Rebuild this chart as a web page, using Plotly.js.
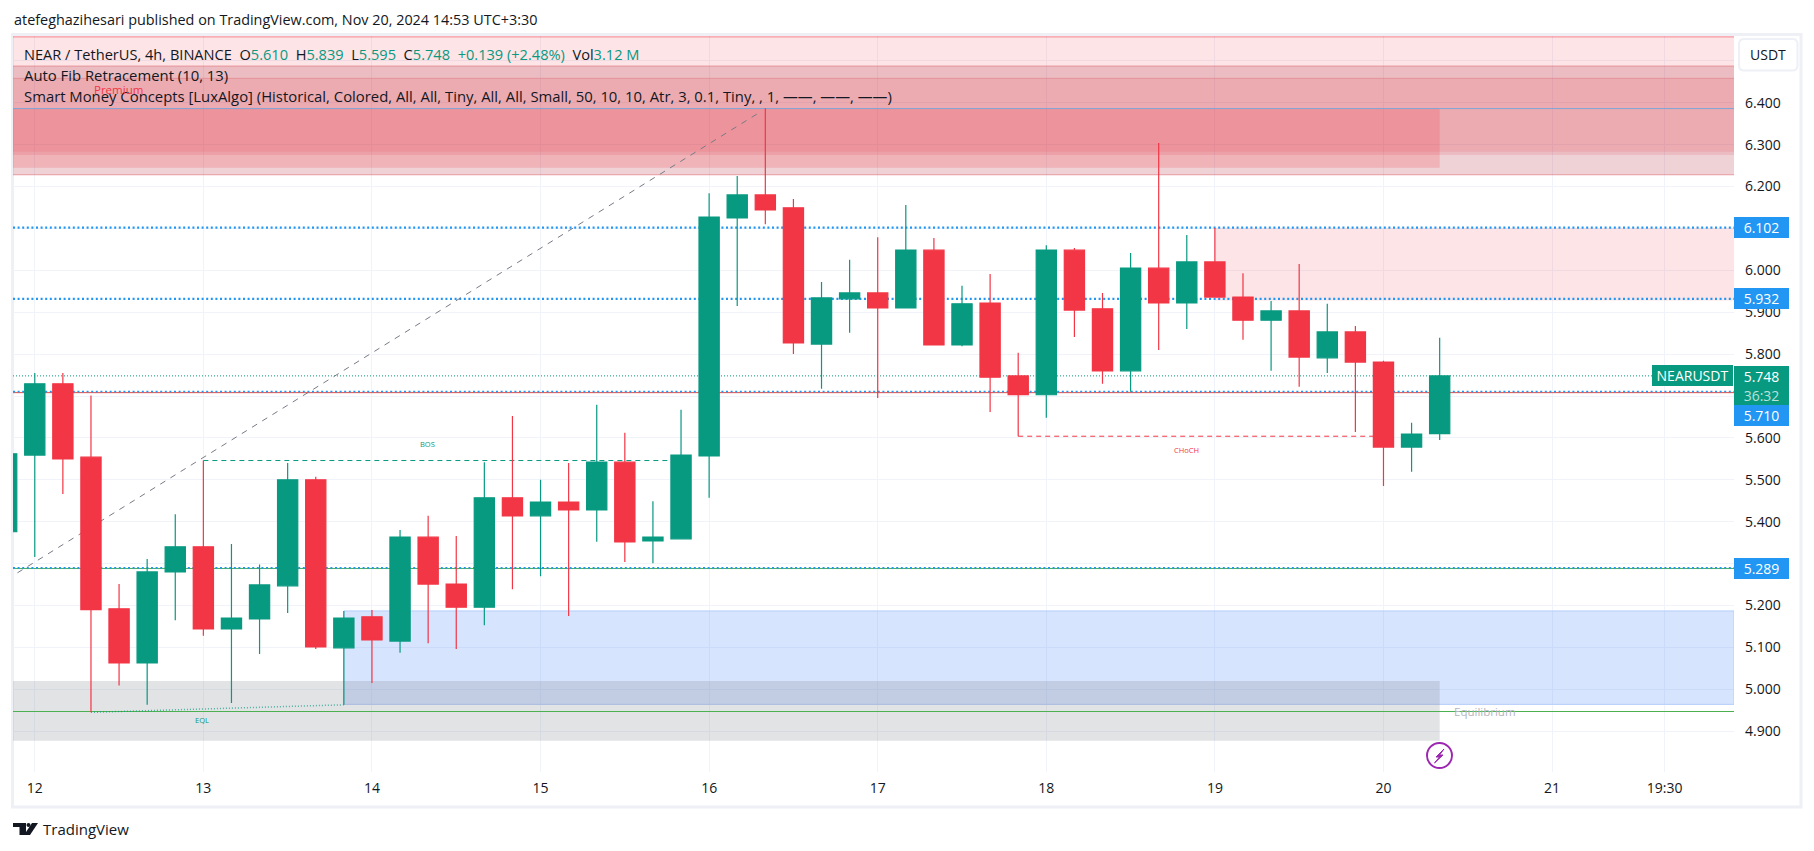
<!DOCTYPE html>
<html>
<head>
<meta charset="utf-8">
<script src="https://cdn.plot.ly/plotly-3.0.1.min.js"></script>
<style>html,body{margin:0;padding:0;background:#fff;overflow:hidden}#chart{width:1814px;height:851px}</style>
</head>
<body>
<div id="chart"></div>
<script>
var times = ["2024-11-11 20:00",
"2024-11-12 00:00","2024-11-12 04:00","2024-11-12 08:00","2024-11-12 12:00","2024-11-12 16:00","2024-11-12 20:00",
"2024-11-13 00:00","2024-11-13 04:00","2024-11-13 08:00","2024-11-13 12:00","2024-11-13 16:00","2024-11-13 20:00",
"2024-11-14 00:00","2024-11-14 04:00","2024-11-14 08:00","2024-11-14 12:00","2024-11-14 16:00","2024-11-14 20:00",
"2024-11-15 00:00","2024-11-15 04:00","2024-11-15 08:00","2024-11-15 12:00","2024-11-15 16:00","2024-11-15 20:00",
"2024-11-16 00:00","2024-11-16 04:00","2024-11-16 08:00","2024-11-16 12:00","2024-11-16 16:00","2024-11-16 20:00",
"2024-11-17 00:00","2024-11-17 04:00","2024-11-17 08:00","2024-11-17 12:00","2024-11-17 16:00","2024-11-17 20:00",
"2024-11-18 00:00","2024-11-18 04:00","2024-11-18 08:00","2024-11-18 12:00","2024-11-18 16:00","2024-11-18 20:00",
"2024-11-19 00:00","2024-11-19 04:00","2024-11-19 08:00","2024-11-19 12:00","2024-11-19 16:00","2024-11-19 20:00",
"2024-11-20 00:00","2024-11-20 04:00","2024-11-20 08:00"];
var opens  = [5.376,
5.559,5.729,5.554,5.192,5.063,5.280,
5.340,5.144,5.168,5.247,5.500,5.099,
5.173,5.115,5.363,5.251,5.196,5.457,
5.414,5.447,5.428,5.542,5.354,5.359,
5.557,6.125,6.180,6.149,5.824,5.932,
5.946,5.910,6.048,5.822,5.922,5.748,
5.703,6.048,5.908,5.760,6.005,5.922,
6.020,5.936,5.881,5.903,5.791,5.853,
5.781,5.578,5.610];
var highs  = [5.562,
5.755,5.755,5.701,5.251,5.311,5.418,
5.546,5.347,5.298,5.540,5.507,5.187,
5.189,5.380,5.414,5.366,5.542,5.652,
5.500,5.540,5.679,5.612,5.449,5.667,
6.184,6.225,6.387,6.170,5.972,6.025,
6.079,6.156,6.077,5.963,5.991,5.803,
6.060,6.053,5.946,6.041,6.304,6.084,
6.101,5.993,5.927,6.015,5.920,5.867,
5.784,5.636,5.839];
var lows   = [5.376,
5.316,5.466,4.945,5.009,4.963,5.165,
5.128,4.967,5.084,5.182,5.096,4.963,
5.015,5.087,5.110,5.096,5.153,5.239,
5.270,5.175,5.352,5.304,5.301,5.359,
5.457,5.915,6.110,5.800,5.717,5.851,
5.695,5.910,5.822,5.819,5.662,5.604,
5.648,5.841,5.729,5.710,5.810,5.860,
5.936,5.834,5.760,5.722,5.755,5.614,
5.485,5.519,5.595];
var closes = [5.562,
5.729,5.550,5.190,5.063,5.280,5.340,
5.144,5.170,5.249,5.500,5.101,5.170,
5.118,5.363,5.251,5.196,5.457,5.414,
5.447,5.428,5.542,5.352,5.363,5.559,
6.127,6.180,6.144,5.827,5.934,5.946,
5.910,6.048,5.822,5.920,5.745,5.703,
6.048,5.905,5.760,6.005,5.922,6.020,
5.936,5.881,5.903,5.793,5.853,5.781,
5.578,5.609,5.748];

var dayTicks  = ["2024-11-12","2024-11-13","2024-11-14","2024-11-15","2024-11-16","2024-11-17","2024-11-18","2024-11-19","2024-11-20","2024-11-21","2024-11-21 16:02"];
var dayLabels = ["12","13","14","15","16","17","18","19","20","21","19:30"];
var priceTicks  = [4.9,5.0,5.1,5.2,5.3,5.4,5.5,5.6,5.7,5.8,5.9,6.0,6.1,6.2,6.3,6.4,6.5];
var priceLabels = ["4.900","5.000","5.100","5.200","","5.400","5.500","5.600","","5.800","5.900","6.000","","6.200","6.300","6.400",""];

var viewStart = "2024-11-11 20:54", viewEnd = "2024-11-22 01:54";
var priceMin = 4.8026, priceMax = 6.5592;
var zoneCut = "2024-11-20 08:00";
var blueStart = "2024-11-13 20:00";
var fvgStart = "2024-11-19 00:00";

var GREEN = "#089981", RED = "#F23645", BLUE = "#2196F3", INK = "#131722";
var L = 13, R = 1734, T = 36, B = 772, W = 1814, H = 851;
function X(px){ return (px - L) / (R - L); }
function Y(py){ return (B - py) / (B - T); }

function band(x0, x1, y0, y1, fill, line){
  return {type:"rect", xref:"x", yref:"y", x0:x0, x1:x1, y0:y0, y1:y1, layer:"between",
          fillcolor:fill, line: line ? {color:line, width:1} : {width:0}};
}
function hline(x0, x1, y, color, width, dash){
  return {type:"line", xref:"x", yref:"y", x0:x0, x1:x1, y0:y, y1:y, layer:"between",
          line:{color:color, width:width, dash:dash||"solid"}};
}
function seg(x0, y0, x1, y1, color, width, dash){
  return {type:"line", xref:"x", yref:"y", x0:x0, x1:x1, y0:y0, y1:y1, layer:"between",
          line:{color:color, width:width, dash:dash||"solid"}};
}
function pxPath(d, fill, line, lw, layer){
  return {type:"path", xref:"paper", yref:"paper", path:d, fillcolor:fill||"rgba(0,0,0,0)",
          line:{color:line||"rgba(0,0,0,0)", width:lw||0}, layer:layer||"above"};
}
function poly(points){
  return "M " + points.map(function(p){ return X(p[0]) + "," + Y(p[1]); }).join(" L ") + " Z";
}
function roundRect(x0,y0,x1,y1,r){
  var k = r*0.3;
  return "M "+X(x0+r)+","+Y(y0)+" L "+X(x1-r)+","+Y(y0)+
    " C "+X(x1-k)+","+Y(y0)+" "+X(x1)+","+Y(y0+k)+" "+X(x1)+","+Y(y0+r)+
    " L "+X(x1)+","+Y(y1-r)+
    " C "+X(x1)+","+Y(y1-k)+" "+X(x1-k)+","+Y(y1)+" "+X(x1-r)+","+Y(y1)+
    " L "+X(x0+r)+","+Y(y1)+
    " C "+X(x0+k)+","+Y(y1)+" "+X(x0)+","+Y(y1-k)+" "+X(x0)+","+Y(y1-r)+
    " L "+X(x0)+","+Y(y0+r)+
    " C "+X(x0)+","+Y(y0+k)+" "+X(x0+k)+","+Y(y0)+" "+X(x0+r)+","+Y(y0)+" Z";
}

var shapes = [
  {type:"rect", xref:"paper", yref:"paper", x0:X(12.5), x1:X(1801), y0:Y(34.5), y1:Y(807), layer:"below",
   fillcolor:"rgba(0,0,0,0)", line:{color:"#eef0f5", width:3}},
  band(viewStart, viewEnd, 6.4876, 6.5592, "rgba(242,54,69,0.134)"),
  hline(viewStart, viewEnd, 6.5575, "rgba(242,54,69,0.30)", 2),
  band(viewStart, viewEnd, 6.228, 6.4876, "rgba(178,40,51,0.208)"),
  band(viewStart, viewEnd, 6.275, 6.4876, "rgba(215,54,69,0.14)"),
  band(viewStart, viewEnd, 6.283, 6.4582, "rgba(242,54,69,0.127)"),
  hline(viewStart, viewEnd, 6.4876, "rgba(220,80,90,0.45)", 1),
  hline(viewStart, viewEnd, 6.4582, "rgba(220,80,90,0.30)", 1),
  hline(viewStart, viewEnd, 6.228, "rgba(220,80,90,0.50)", 1),
  band(viewStart, zoneCut, 6.245, 6.3857, "rgba(242,54,69,0.20)"),
  band(fvgStart, viewEnd, 5.928, 6.101, "rgba(242,54,69,0.134)"),
  band(blueStart, viewEnd, 4.964, 5.187, "rgba(40,110,243,0.19)", "#b4cdfa"),
  band(viewStart, zoneCut, 4.877, 5.020, "rgba(120,123,134,0.21)"),
  hline(viewStart, viewEnd, 6.386, "#7fa5d6", 1),
  hline(viewStart, viewEnd, 5.2882, "#4caf50", 1),
  hline(viewStart, viewEnd, 4.947, "#4caf50", 1),
  hline(viewStart, viewEnd, 5.708, "#f44336", 1),
  hline(viewStart, viewEnd, 6.102, BLUE, 2.2, "2px,2.6px"),
  hline(viewStart, viewEnd, 5.932, BLUE, 2.2, "2px,2.6px"),
  hline(viewStart, viewEnd, 5.7105, BLUE, 1.6, "2px,2.6px"),
  hline(viewStart, viewEnd, 5.2897, BLUE, 1.6, "2px,2.6px"),
  hline(viewStart, viewEnd, 5.748, GREEN, 1, "1px,2px"),
  seg("2024-11-11 21:32", 5.278, "2024-11-16 07:06", 6.376, "#787b86", 1, "6px,6px"),
  seg("2024-11-13 00:00", 5.546, "2024-11-15 20:00", 5.546, GREEN, 1, "5px,4px"),
  seg("2024-11-17 20:00", 5.604, "2024-11-20 00:00", 5.604, RED, 1, "5px,4px"),
  seg("2024-11-12 08:00", 4.945, "2024-11-13 20:00", 4.963, "rgba(8,153,129,0.7)", 1.5, "1px,2px"),
  pxPath(roundRect(1739,39,1797.5,70.5,5), "#ffffff", "#eef0f5", 2),
  {type:"circle", xref:"paper", yref:"paper", x0:X(1427), x1:X(1452), y0:Y(743), y1:Y(768),
   fillcolor:"#ffffff", line:{color:"#9c27b0", width:2}, layer:"above"},
  pxPath(poly([[1444,749],[1436,757],[1439.5,757],[1434.5,763],[1443,755],[1439.5,755]]), "#9c27b0", "#9c27b0", 1),
  pxPath(poly([[13,823],[26,823],[26,835],[19.5,835],[19.5,827],[13,827]]), INK),
  {type:"circle", xref:"paper", yref:"paper", x0:X(26.5), x1:X(30.5), y0:Y(823), y1:Y(827), fillcolor:INK, line:{width:0}, layer:"above"},
  pxPath(poly([[32,823],[38,823],[30,835],[24,835]]), INK)
];

var FONT = '"Open Sans", "Noto Sans", sans-serif';
function note(px, py, text, size, color, anchor){
  return {xref:"paper", yref:"paper", x:X(px), y:Y(py), text:text, showarrow:false,
           xanchor:anchor||"left", yanchor:"middle", align:anchor||"left", borderpad:0,
           font:{family:FONT, size:size, color:color}};
}
function priceBox(price, text, bg, color, height, shift){
  return {xref:"paper", yref:"y", x:1, y:price, xanchor:"left", yanchor:"middle", showarrow:false,
          text:text, bgcolor:bg, width:55, height:height, borderpad:0, borderwidth:0, yshift:shift||0, align:"center",
          font:{family:FONT, size:14, color:color}};
}
function v(t){ return '<span style="color:'+GREEN+'">'+t+'</span>'; }

var annotations = [
  note(13, 20, "atefeghazihesari published on TradingView.com, Nov 20, 2024 14:53 UTC+3:30", 14.4, INK),
  note(23, 54, "NEAR / TetherUS, 4h, BINANCE&nbsp;&nbsp;O"+v("5.610")+"&nbsp;&nbsp;H"+v("5.839")+"&nbsp;&nbsp;L"+v("5.595")+"&nbsp;&nbsp;C"+v("5.748")+"&nbsp;&nbsp;"+v("+0.139 (+2.48%)")+"&nbsp;&nbsp;Vol"+v("3.12 M"), 14.6, INK),
  note(23, 75, "Auto Fib Retracement (10, 13)", 14.85, INK),
  note(23, 96, "Smart Money Concepts [LuxAlgo] (Historical, Colored, All, All, Tiny, All, All, Small, 50, 10, 10, Atr, 3, 0.1, Tiny, , 1, \u2014\u2014, \u2014\u2014, \u2014\u2014)", 14.85, INK),
  note(118, 89, "Premium", 11.5, RED, "center"),
  note(427, 444, "BOS", 7.5, GREEN, "center"),
  note(1186, 450, "CHoCH", 7.5, RED, "center"),
  note(202, 720, "EQL", 7.5, GREEN, "center"),
  note(1485, 711, "Equilibrium", 11.5, "#b2b5be", "center"),
  note(1768, 55, "USDT", 14, INK, "center"),
  note(42, 829, "TradingView", 15, INK),
  priceBox(6.102, "6.102", BLUE, "#ffffff", 21),
  priceBox(5.932, "5.932", BLUE, "#ffffff", 21),
  priceBox(5.289, "5.289", BLUE, "#ffffff", 21),
  priceBox(5.748, "5.748", GREEN, "#ffffff", 20.5, -0.3),
  priceBox(5.748, "36:32", GREEN, "rgba(255,255,255,0.72)", 19, -19.5),
  priceBox(5.710, "5.710", BLUE, "#ffffff", 21, -24),
  {xref:"paper", yref:"y", x:1, y:5.748, xanchor:"right", yanchor:"middle", showarrow:false, text:"NEARUSDT",
   bgcolor:GREEN, width:81, height:20.5, borderpad:0, borderwidth:0, align:"center", xshift:-1,
   font:{family:FONT, size:14, color:"#ffffff"}}
];

var candles = {
  type:"candlestick", x:times, open:opens, high:highs, low:lows, close:closes,
  whiskerwidth:0, hoverinfo:"skip", showlegend:false,
  increasing:{line:{color:GREEN, width:1.2}, fillcolor:GREEN},
  decreasing:{line:{color:RED, width:1.2}, fillcolor:RED}
};

var layout = {
  width:W, height:H, autosize:false,
  margin:{l:L, r:W-R, t:T, b:H-B, pad:0},
  paper_bgcolor:"#ffffff", plot_bgcolor:"#ffffff",
  showlegend:false, dragmode:false, hovermode:false, boxgap:0.28, boxgroupgap:0,
  xaxis:{type:"date", range:[viewStart, viewEnd], rangeslider:{visible:false}, tickmode:"array",
         tickvals:dayTicks, ticktext:dayLabels, tickangle:0, ticks:"", showline:false, zeroline:false,
         showgrid:true, gridcolor:"#f0f3fa", gridwidth:1, ticklabelstandoff:6,
         tickfont:{family:FONT, size:14, color:INK}, fixedrange:true},
  yaxis:{type:"linear", side:"right", range:[priceMin, priceMax], tickmode:"array",
         tickvals:priceTicks, ticktext:priceLabels, ticks:"", showline:false, zeroline:false,
         showgrid:true, gridcolor:"#f0f3fa", gridwidth:1, ticklabelstandoff:10,
         tickfont:{family:FONT, size:14, color:INK}, fixedrange:true},
  shapes:shapes, annotations:annotations
};
Plotly.newPlot("chart", [candles], layout, {displayModeBar:false, staticPlot:true, responsive:false});
</script>
</body>
</html>
